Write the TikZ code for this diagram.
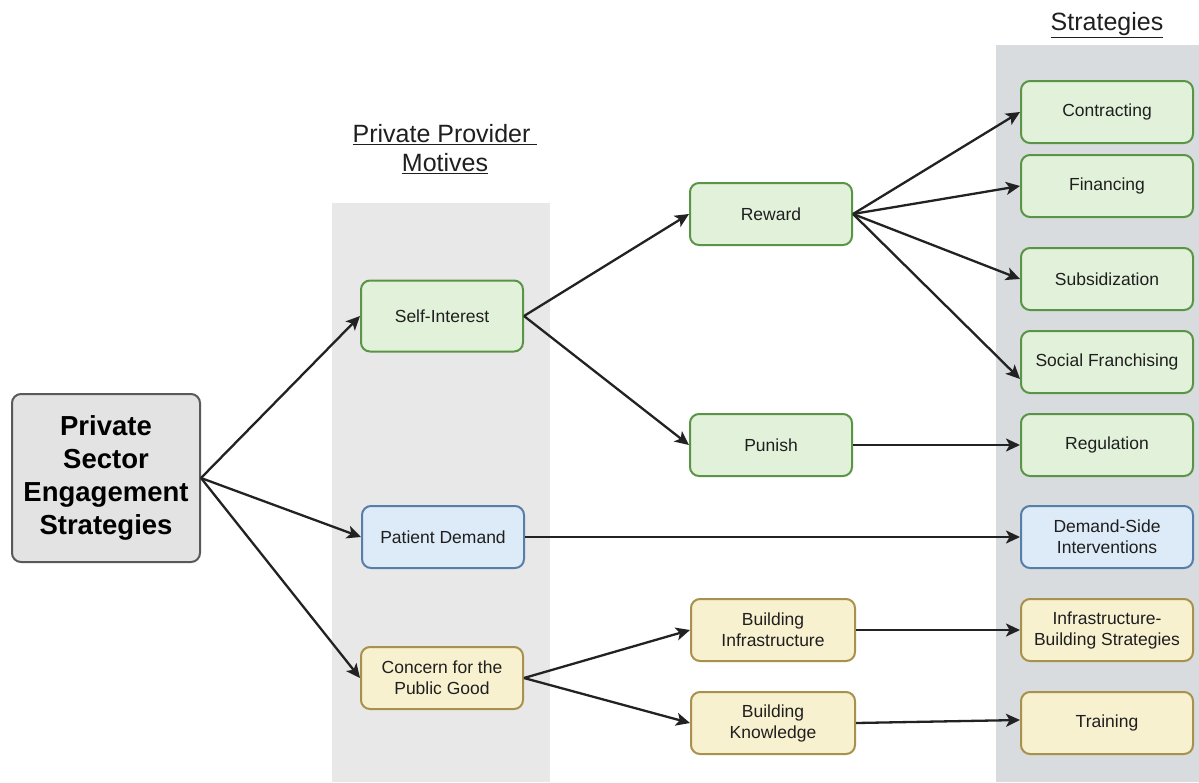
\documentclass[tikz,border=0pt]{standalone}
\usepackage{fontspec}
\setmainfont{Liberation Sans}
\usetikzlibrary{arrows.meta}
\definecolor{gfill}{HTML}{E2F2DA}
\definecolor{gdraw}{HTML}{5A9446}
\definecolor{bfill}{HTML}{DDEAF8}
\definecolor{bdraw}{HTML}{557FA8}
\definecolor{yfill}{HTML}{F8F1D0}
\definecolor{ydraw}{HTML}{A8914C}
\definecolor{band}{HTML}{E8E8E8}
\definecolor{bandr}{HTML}{D9DCDF}
\definecolor{rootfill}{HTML}{E3E3E3}
\definecolor{arr}{HTML}{222222}
\begin{document}
\begin{tikzpicture}[x=1pt,y=-1pt,
  box/.style={rectangle,rounded corners=9pt,line width=2pt,inner sep=0pt,align=center,
    font=\fontsize{17.5}{21}\selectfont,text=black!88},
  gbox/.style={box,fill=gfill,draw=gdraw},
  bbox/.style={box,fill=bfill,draw=bdraw},
  ybox/.style={box,fill=yfill,draw=ydraw},
  mid/.style={minimum width=162pt,minimum height=62pt},
  rgt/.style={minimum width=172pt,minimum height=62pt},
  conn/.style={line width=2.3pt,draw=arr,-{Stealth[length=14pt,width=13pt,inset=3.5pt]}},
  title/.style={font=\fontsize{25}{29}\selectfont,align=center,text=black!88}]
\useasboundingbox (0,0) rectangle (1199,782);
\fill[white] (0,0) rectangle (1199,782);
% bands
\fill[band] (332,203) rectangle (550,782);
\fill[bandr] (996,45) rectangle (1199,782);
% titles
\node[title] (t1) at (445,149) {\underline{Private Provider\ }\\\underline{Motives}};
\node[title] (t2) at (1107,25) {\underline{Strategies}};
% root
\node[box,fill=rootfill,draw=black!65,minimum width=188pt,minimum height=168pt,
  font=\fontsize{27.5}{33}\selectfont\bfseries,text=black] (root) at (106,478)
  {Private\\Sector\\Engagement\\Strategies};
% motives
\node[gbox,minimum width=162pt,minimum height=71pt] (self) at (442,316) {Self-Interest};
\node[bbox,mid] (pat) at (443,537) {Patient Demand};
\node[ybox,mid] (conc) at (442,678) {Concern for the\\Public Good};
% mechanisms
\node[gbox,mid] (rew) at (771,214) {Reward};
\node[gbox,mid] (pun) at (771,445) {Punish};
\node[ybox,minimum width=164pt,minimum height=62pt] (binf) at (773,630) {Building\\Infrastructure};
\node[ybox,minimum width=164pt,minimum height=62pt] (bkn) at (773,723) {Building\\Knowledge};
% strategies
\node[gbox,rgt] (con) at (1107,112) {Contracting};
\node[gbox,rgt] (fin) at (1107,186) {Financing};
\node[gbox,rgt] (sub) at (1107,279) {Subsidization};
\node[gbox,rgt] (soc) at (1107,362) {Social Franchising};
\node[gbox,rgt] (reg) at (1107,445) {Regulation};
\node[bbox,rgt] (dem) at (1107,537) {Demand-Side\\Interventions};
\node[ybox,rgt] (ibs) at (1107,630) {Infrastructure-\\Building Strategies};
\node[ybox,rgt] (tra) at (1107,723) {Training};
% connectors
\draw[conn] (root.east) -- (self.west);
\draw[conn] (root.east) -- (pat.west);
\draw[conn] (root.east) -- (conc.west);
\draw[conn] (self.east) -- (rew.west);
\draw[conn] (self.east) -- (pun.west);
\draw[conn] (rew.east) -- (con.west);
\draw[conn] (rew.east) -- (fin.west);
\draw[conn] (rew.east) -- (sub.west);
\draw[conn] (rew.east) -- ([yshift=-17pt]soc.west);
\draw[conn] (pun.east) -- (reg.west);
\draw[conn] (pat.east) -- (dem.west);
\draw[conn] (conc.east) -- (binf.west);
\draw[conn] (conc.east) -- (bkn.west);
\draw[conn] (binf.east) -- (ibs.west);
\draw[conn] (bkn.east) -- ([yshift=3pt]tra.west);
\end{tikzpicture}
\end{document}
